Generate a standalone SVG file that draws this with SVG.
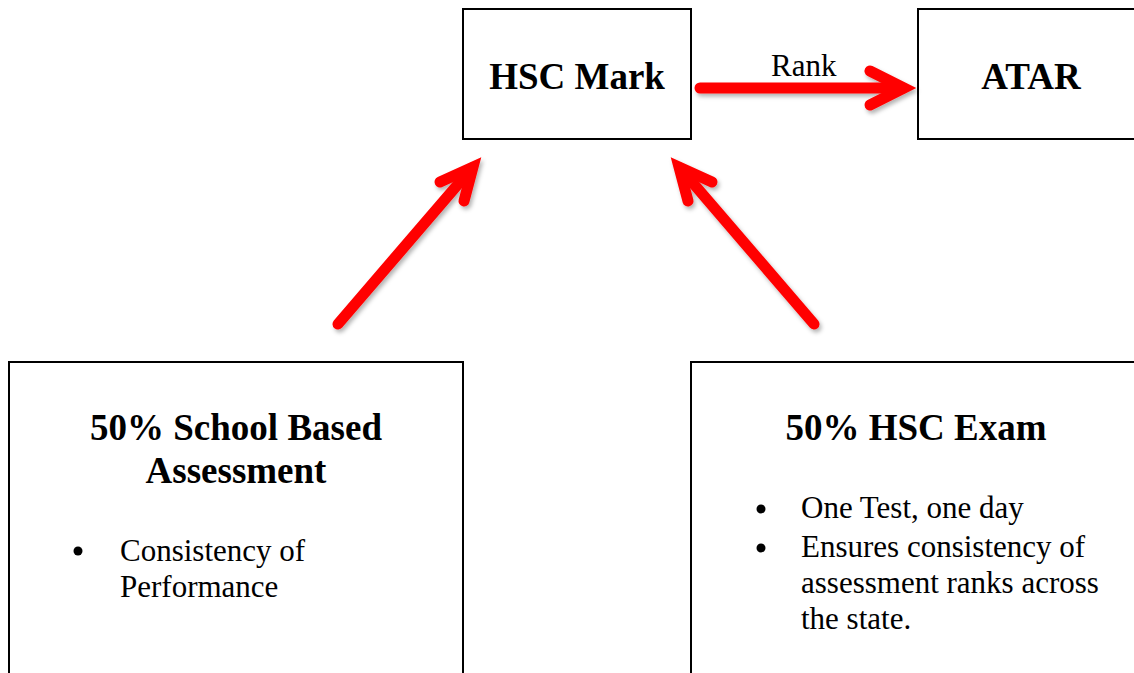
<svg xmlns="http://www.w3.org/2000/svg" width="1134" height="673" viewBox="0 0 1134 673">
<defs>
<style>
.box{fill:#fff;stroke:#000;stroke-width:2}
.h{font-family:"Liberation Serif","Times New Roman",serif;font-weight:bold;font-size:37px;fill:#000;text-anchor:middle}
.t{font-family:"Liberation Serif","Times New Roman",serif;font-size:31px;fill:#000}
.arr{fill:none;stroke:#ff0000;stroke-width:11;stroke-linecap:round;stroke-linejoin:miter}
</style>
<filter id="sh" x="-20%" y="-20%" width="140%" height="140%">
<feDropShadow dx="2" dy="3" stdDeviation="2" flood-color="#000" flood-opacity="0.3"/>
</filter>
</defs>
<g id="hsc-mark">
<rect class="box" x="463" y="9" width="228" height="130"/>
<text class="h" x="577" y="89">HSC Mark</text>
</g>
<g id="atar">
<rect class="box" x="918" y="9" width="220" height="130"/>
<text class="h" x="1031" y="89">ATAR</text>
</g>
<g id="school-based">
<rect class="box" x="9" y="362" width="454" height="320"/>
<text class="h" x="236" y="440">50% School Based</text>
<text class="h" x="236" y="483">Assessment</text>
<circle cx="78" cy="551" r="4.5" fill="#000"/>
<text class="t" x="120" y="561">Consistency of</text>
<text class="t" x="120" y="597">Performance</text>
</g>
<g id="hsc-exam">
<rect class="box" x="691" y="362" width="450" height="320"/>
<text class="h" x="916" y="440">50% HSC Exam</text>
<circle cx="761" cy="509" r="4.5" fill="#000"/>
<circle cx="761" cy="548" r="4.5" fill="#000"/>
<text class="t" x="801" y="518">One Test, one day</text>
<text class="t" x="801" y="557">Ensures consistency of</text>
<text class="t" x="801" y="593">assessment ranks across</text>
<text class="t" x="801" y="629">the state.</text>
</g>
<g id="connectors">
<g filter="url(#sh)">
<line class="arr" x1="700" y1="88" x2="903" y2="88"/>
<polyline class="arr" points="870,71 904,88 870,105"/>
<line class="arr" x1="338" y1="324" x2="472" y2="168"/>
<polyline class="arr" points="440,182 473,167 464,201"/>
<line class="arr" x1="814" y1="324" x2="680" y2="168"/>
<polyline class="arr" points="712,182 679,167 688,201"/>
</g>
<text class="t" x="771" y="76">Rank</text>
</g>
</svg>
